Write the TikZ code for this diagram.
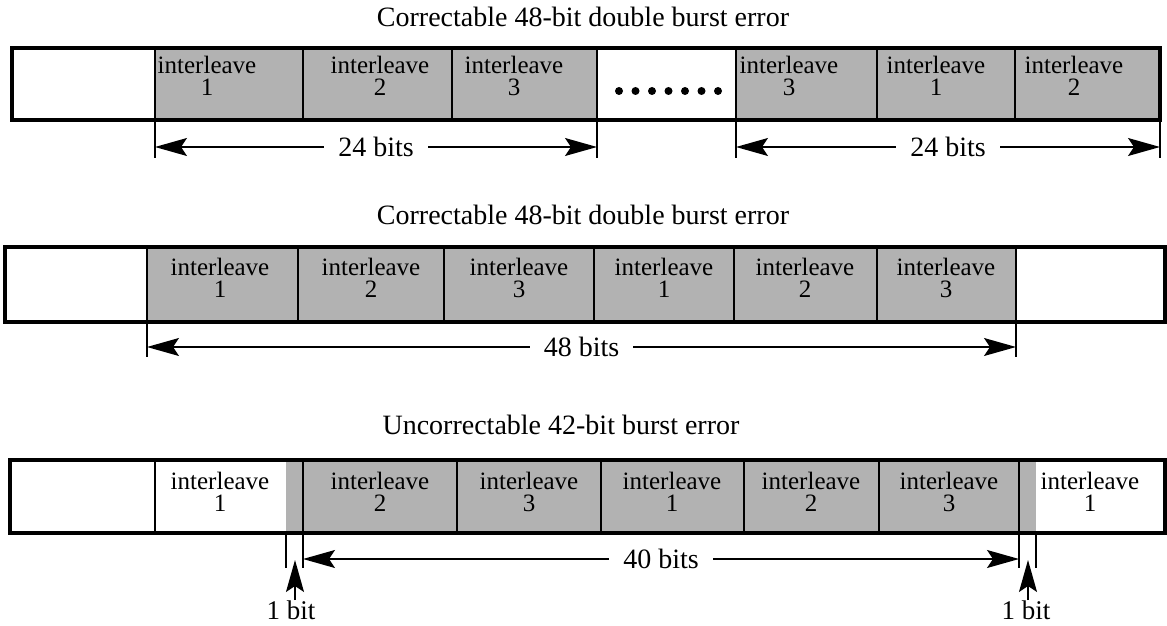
\documentclass[tikz,border=0pt]{standalone}
\usepackage{fontspec}
\setmainfont{Liberation Serif}
\usetikzlibrary{arrows.meta}

\tikzset{
  halftone/.style={fill=black!30},
  frame/.style={line width=1.6pt},
  divider/.style={line width=1pt},
  tick/.style={line width=0.6pt},
  dim/.style={line width=0.7pt,
    {Stealth[length=16pt,width=9pt,inset=3pt]}-{Stealth[length=16pt,width=9pt,inset=3pt]}},
  uparrow/.style={line width=0.7pt,-{Stealth[length=16pt,width=9pt,inset=3pt]}},
  title/.style={font=\fontsize{14}{16}\selectfont},
  cellt/.style={anchor=north,align=center,inner sep=0pt,font=\fontsize{12.5}{11}\selectfont},
  dimlabel/.style={midway,fill=white,inner xsep=7pt,font=\fontsize{14}{16}\selectfont},
  bitlabel/.style={inner sep=0pt,font=\fontsize{13.5}{15}\selectfont}
}

\begin{document}
\begin{tikzpicture}[x=0.5pt,y=-0.5pt]
\useasboundingbox (0,0) rectangle (1167,626);

% two separate 24-bit bursts
\node[title] (t1) at (583,17) {Correctable 48-bit double burst error};
\fill[halftone] (155,48) rectangle (597,120);
\fill[halftone] (736,48) rectangle (1160,120);
\draw[divider] (155,48) -- (155,120);
\draw[divider] (303,48) -- (303,120);
\draw[divider] (452,48) -- (452,120);
\draw[divider] (597,48) -- (597,120);
\draw[divider] (736,48) -- (736,120);
\draw[divider] (877,48) -- (877,120);
\draw[divider] (1015,48) -- (1015,120);
\draw[frame] (12,48) rectangle (1160,120);
\node[cellt] (a1) at (207,56) {interleave\\1};
\node[cellt] (a2) at (380,56) {interleave\\2};
\node[cellt] (a3) at (514,56) {interleave\\3};
\node[cellt] (a5) at (789,56) {interleave\\3};
\node[cellt] (a6) at (936,56) {interleave\\1};
\node[cellt] (a7) at (1074,56) {interleave\\2};
\foreach \x in {619,635.5,...,719} \fill (\x,91) circle (4);

\draw[tick] (155,120) -- (155,158);
\draw[tick] (597,120) -- (597,158);
\draw[tick] (736,120) -- (736,158);
\draw[tick] (1160,120) -- (1160,158);
\coordinate (d1l) at (155,147);
\coordinate (d1r) at (597,147);
\coordinate (d2l) at (736,147);
\coordinate (d2r) at (1160,147);
\draw[dim] (d1l) -- (d1r) node[dimlabel] (l1) {24 bits};
\draw[dim] (d2l) -- (d2r) node[dimlabel] (l2) {24 bits};

% one 48-bit burst
\node[title] (t2) at (583,215) {Correctable 48-bit double burst error};
\fill[halftone] (147,247) rectangle (1016,322);
\draw[divider] (147,247) -- (147,322);
\draw[divider] (298,247) -- (298,322);
\draw[divider] (444,247) -- (444,322);
\draw[divider] (594,247) -- (594,322);
\draw[divider] (734,247) -- (734,322);
\draw[divider] (877,247) -- (877,322);
\draw[divider] (1016,247) -- (1016,322);
\draw[frame] (5,247) rectangle (1165,322);
\node[cellt] (b1) at (220,258) {interleave\\1};
\node[cellt] (b2) at (371,258) {interleave\\2};
\node[cellt] (b3) at (519,258) {interleave\\3};
\node[cellt] (b4) at (664,258) {interleave\\1};
\node[cellt] (b5) at (805,258) {interleave\\2};
\node[cellt] (b6) at (946,258) {interleave\\3};

\draw[tick] (147,322) -- (147,357);
\draw[tick] (1016,322) -- (1016,357);
\coordinate (d3l) at (147,347);
\coordinate (d3r) at (1016,347);
\draw[dim] (d3l) -- (d3r) node[dimlabel] (l3) {48 bits};

% 42-bit burst over four interleaves
\node[title] (t3) at (561,425) {Uncorrectable 42-bit burst error};
\fill[halftone] (286,460) rectangle (1036,533);
\draw[divider] (155,460) -- (155,533);
\draw[divider] (303,460) -- (303,533);
\draw[divider] (457,460) -- (457,533);
\draw[divider] (601,460) -- (601,533);
\draw[divider] (744,460) -- (744,533);
\draw[divider] (879,460) -- (879,533);
\draw[divider] (1019,460) -- (1019,533);
\draw[frame] (10,460) rectangle (1165,533);
\node[cellt] (c1) at (220,472) {interleave\\1};
\node[cellt] (c2) at (380,472) {interleave\\2};
\node[cellt] (c3) at (529,472) {interleave\\3};
\node[cellt] (c4) at (672,472) {interleave\\1};
\node[cellt] (c5) at (811,472) {interleave\\2};
\node[cellt] (c6) at (949,472) {interleave\\3};
\node[cellt] (c7) at (1090,472) {interleave\\1};

\draw[tick] (286,533) -- (286,568);
\draw[tick] (303,533) -- (303,568);
\draw[tick] (1019,533) -- (1019,568);
\draw[tick] (1036,533) -- (1036,568);
\coordinate (d4l) at (303,559);
\coordinate (d4r) at (1019,559);
\draw[dim] (d4l) -- (d4r) node[dimlabel] (l4) {40 bits};

\node[bitlabel] (bit1) at (291,610) {1 bit};
\node[bitlabel] (bit2) at (1026,610) {1 bit};
\coordinate (tip1) at (295,560);
\coordinate (tip2) at (1028,560);
\draw[uparrow] (bit1.north -| tip1) -- (tip1);
\draw[uparrow] (bit2.north -| tip2) -- (tip2);
\end{tikzpicture}
\end{document}
